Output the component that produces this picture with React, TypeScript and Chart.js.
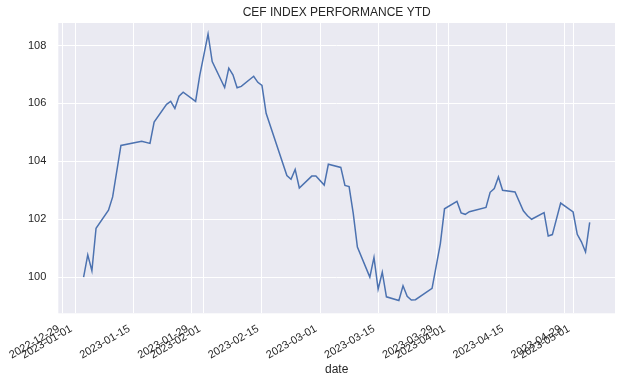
import React, { useEffect, useRef } from "react";
import { Chart, registerables } from "chart.js";

Chart.register(...registerables);

const dates: string[] = [
  "2023-01-03", "2023-01-04", "2023-01-05", "2023-01-06", "2023-01-09", "2023-01-10",
  "2023-01-12", "2023-01-17", "2023-01-19", "2023-01-20", "2023-01-23", "2023-01-24",
  "2023-01-25", "2023-01-26", "2023-01-27", "2023-01-30", "2023-01-31", "2023-02-02",
  "2023-02-03", "2023-02-06", "2023-02-07", "2023-02-08", "2023-02-09", "2023-02-10",
  "2023-02-13", "2023-02-14", "2023-02-15", "2023-02-16", "2023-02-21", "2023-02-22",
  "2023-02-23", "2023-02-24", "2023-02-27", "2023-02-28", "2023-03-02", "2023-03-03",
  "2023-03-06", "2023-03-07", "2023-03-08", "2023-03-09", "2023-03-10", "2023-03-13",
  "2023-03-14", "2023-03-15", "2023-03-16", "2023-03-17", "2023-03-20", "2023-03-21",
  "2023-03-22", "2023-03-23", "2023-03-24", "2023-03-28", "2023-03-30", "2023-03-31",
  "2023-04-03", "2023-04-04", "2023-04-05", "2023-04-06", "2023-04-10", "2023-04-11",
  "2023-04-12", "2023-04-13", "2023-04-14", "2023-04-17", "2023-04-19", "2023-04-20",
  "2023-04-21", "2023-04-24", "2023-04-25", "2023-04-26", "2023-04-28", "2023-05-01",
  "2023-05-02", "2023-05-03", "2023-05-04", "2023-05-05",
];

const values: number[] = [
  100.0, 100.77, 100.22, 101.69, 102.31, 102.77,
  104.55, 104.69, 104.62, 105.36, 105.97, 106.07,
  105.83, 106.25, 106.39, 106.07, 106.97, 108.4,
  107.45, 106.55, 107.22, 106.99, 106.54, 106.59,
  106.94, 106.73, 106.62, 105.66, 103.51, 103.38,
  103.72, 103.08, 103.49, 103.49, 103.18, 103.9,
  103.79, 103.17, 103.13, 102.2, 101.04, 100.0,
  100.68, 99.58, 100.17, 99.32, 99.19, 99.7,
  99.34, 99.21, 99.22, 99.61, 101.16, 102.36,
  102.62, 102.22, 102.17, 102.26, 102.41, 102.93,
  103.06, 103.46, 103.0, 102.94, 102.29, 102.12,
  102.0, 102.23, 101.42, 101.47, 102.56, 102.25,
  101.48, 101.22, 100.87, 101.89,
];

const xTickDates: string[] = [
  "2022-12-29", "2023-01-01", "2023-01-15", "2023-01-29", "2023-02-01", "2023-02-15",
  "2023-03-01", "2023-03-15", "2023-03-29", "2023-04-01", "2023-04-15", "2023-04-29",
  "2023-05-01",
];

const yTicks: number[] = [100, 102, 104, 106, 108];

const chartTitle = "CEF INDEX PERFORMANCE YTD";
const xAxisLabel = "date";

const dayOf = (s: string): number => {
  const [y, m, d] = s.split("-").map(Number);
  return (Date.UTC(y, m - 1, d) - Date.UTC(2023, 0, 1)) / 86400000;
};

const FONT = "'Liberation Sans', Arial, Helvetica, sans-serif";
const TEXT = "#262626";

export default function App() {
  const ref = useRef<HTMLCanvasElement | null>(null);

  useEffect(() => {
    if (!ref.current) return;
    const xs = dates.map(dayOf);
    const span = xs[xs.length - 1] - xs[0];
    const xMin = xs[0] - span * 0.05;
    const xMax = xs[xs.length - 1] + span * 0.05;
    const labelMap = new Map<number, string>();
    xTickDates.forEach((d) => labelMap.set(dayOf(d), d));

    const bgPlugin = {
      id: "bg",
      beforeDraw(chart: any) {
        const { ctx, chartArea } = chart;
        ctx.save();
        ctx.fillStyle = "#ffffff";
        ctx.fillRect(0, 0, chart.width, chart.height);
        ctx.fillStyle = "#EAEAF2";
        ctx.fillRect(chartArea.left, chartArea.top, chartArea.right - chartArea.left, chartArea.bottom - chartArea.top);
        ctx.restore();
        // nudge rotated x tick labels so their right ends sit just left of the tick, as in matplotlib
        const xs = chart.scales.x;
        const items: any = xs.getLabelItems(chartArea);
        if (items && !items._shifted) {
          items.forEach((it: any) => {
            if (it.options && it.options.translation) it.options.translation[0] -= 4;
          });
          items._shifted = true;
        }
      },
    };

    const chart = new Chart(ref.current, {
      type: "line",
      data: {
        datasets: [
          {
            data: xs.map((x, i) => ({ x, y: values[i] })),
            borderColor: "#4C72B0",
            borderWidth: 1.5,
            pointRadius: 0,
            tension: 0,
            fill: false,
          },
        ],
      },
      options: {
        animation: false,
        responsive: true,
        maintainAspectRatio: false,
        layout: { padding: { left: 0, right: 12, top: 0, bottom: 0 } },
        plugins: {
          legend: { display: false },
          tooltip: { enabled: false },
          title: {
            display: true,
            fullSize: false,
            text: chartTitle,
            color: TEXT,
            font: { family: FONT, size: 12, weight: "normal" },
            padding: { top: 5, bottom: 3.6 },
          },
        },
        scales: {
          x: {
            type: "linear",
            min: xMin,
            max: xMax,
            afterBuildTicks: (scale: any) => {
              scale.ticks = xTickDates.map((d) => ({ value: dayOf(d) }));
            },
            afterFit: (scale: any) => {
              scale.height = 68.7;
            },
            ticks: {
              autoSkip: false,
              minRotation: 30,
              maxRotation: 30,
              padding: 9,
              color: TEXT,
              font: { family: FONT, size: 11 },
              callback: (v: any) => labelMap.get(Number(v)) ?? "",
            },
            grid: { color: "#ffffff", lineWidth: 1, drawTicks: false },
            border: { display: false },
            title: {
              display: true,
              text: xAxisLabel,
              color: TEXT,
              font: { family: FONT, size: 12 },
              padding: { top: 0, bottom: 5 },
            },
          },
          y: {
            type: "linear",
            min: 98.75,
            max: 108.78,
            afterBuildTicks: (scale: any) => {
              scale.ticks = yTicks.map((v) => ({ value: v }));
            },
            afterFit: (scale: any) => {
              scale.width = 58.3;
            },
            ticks: {
              padding: 12,
              color: TEXT,
              font: { family: FONT, size: 11 },
              callback: (v: any) => String(v),
            },
            grid: { color: "#ffffff", lineWidth: 1, drawTicks: false },
            border: { display: false },
          },
        },
      },
      plugins: [bgPlugin],
    } as any);

    return () => chart.destroy();
  }, []);

  return (
    <div style={{ position: "fixed", left: 0, top: 0, width: 627, height: 382 }}>
      <canvas ref={ref} />
    </div>
  );
}
